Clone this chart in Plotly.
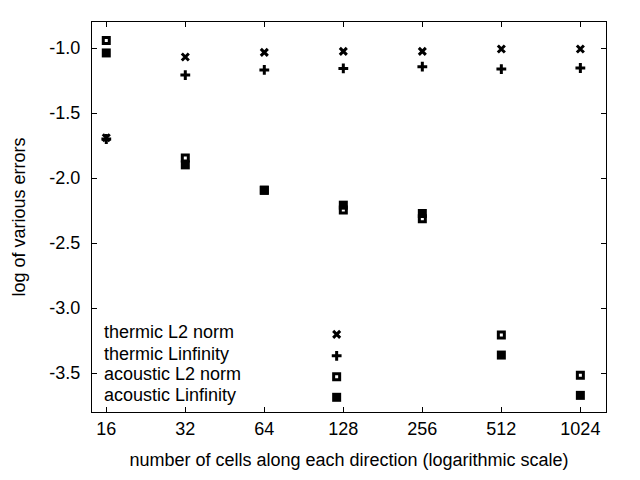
import plotly.graph_objects as go

# ---- data ----
cells = [16, 32, 64, 128, 256, 512, 1024]
cell_labels = ["16", "32", "64", "128", "256", "512", "1024"]
thermic_l2 = [-1.690, -1.069, -1.034, -1.026, -1.026, -1.008, -1.008]
thermic_linf = [-1.700, -1.208, -1.169, -1.157, -1.144, -1.162, -1.154]
acoustic_l2 = [-0.942, -1.846, -2.094, -2.246, -2.313, -3.208, -3.518]
acoustic_linf = [-1.038, -1.899, -2.094, -2.209, -2.273, -3.362, -3.672]

series_names = ["thermic L2 norm", "thermic Linfinity", "acoustic L2 norm", "acoustic Linfinity"]
y_ticks = [-1.0, -1.5, -2.0, -2.5, -3.0, -3.5]
y_tick_labels = ["-1.0", "-1.5", "-2.0", "-2.5", "-3.0", "-3.5"]

FONT = "Liberation Sans, Arial, sans-serif"
BLACK = "#000000"
FS = 18

styles = [
    dict(symbol="x-thin", size=7, line=dict(width=3, color=BLACK), color=BLACK),
    dict(symbol="cross-thin", size=7, line=dict(width=3, color=BLACK), color=BLACK),
    dict(symbol="square-open", size=6, line=dict(width=3, color=BLACK), color=BLACK),
    dict(symbol="square", size=9, line=dict(width=0), color=BLACK),
]
series = [thermic_l2, thermic_linf, acoustic_l2, acoustic_linf]

fig = go.Figure()
for name, ys, st in zip(series_names, series, styles):
    fig.add_trace(go.Scatter(x=cells, y=ys, mode="markers", name=name,
                             marker=st, showlegend=False, hoverinfo="skip"))

# key (gnuplot style: text on the left, sample on the right)
key_rows = [0.199, 0.144, 0.0905, 0.0377]
key_x = 0.476
for name, ky, st in zip(series_names, key_rows, styles):
    fig.add_trace(go.Scatter(x=[key_x], y=[ky], mode="markers", marker=st,
                             xaxis="x2", yaxis="y2", showlegend=False, hoverinfo="skip"))
    fig.add_annotation(x=0.019, y=ky + 0.006, xref="paper", yref="paper", text=name,
                       showarrow=False, xanchor="left", yanchor="middle",
                       font=dict(family=FONT, size=FS, color=BLACK))

axis_common = dict(showline=True, linecolor=BLACK, linewidth=1, mirror="ticks",
                   ticks="inside", ticklen=5, tickcolor=BLACK, tickwidth=1,
                   showgrid=False, zeroline=False, automargin=False,
                   tickfont=dict(family=FONT, size=FS, color=BLACK))

fig.update_layout(
    width=640, height=480,
    paper_bgcolor="white", plot_bgcolor="white",
    margin=dict(l=92, r=34, t=22, b=68),
    font=dict(family=FONT, size=FS, color=BLACK),
    xaxis=dict(type="log", range=[1.1497, 3.108], tickvals=cells, ticktext=cell_labels,
               title=dict(text="number of cells along each direction (logarithmic scale)",
                          font=dict(family=FONT, size=FS, color=BLACK), standoff=15),
               **axis_common),
    yaxis=dict(range=[-3.8, -0.8], tickvals=y_ticks, ticktext=y_tick_labels,
               ticklabelstandoff=7,
               title=dict(text="log of various errors",
                          font=dict(family=FONT, size=FS, color=BLACK), standoff=19),
               **axis_common),
    xaxis2=dict(overlaying="x", range=[0, 1], visible=False),
    yaxis2=dict(overlaying="y", range=[0, 1], visible=False),
)

fig.write_html("out.html", config={"displayModeBar": False},
               post_script="document.body.style.margin='0';")
